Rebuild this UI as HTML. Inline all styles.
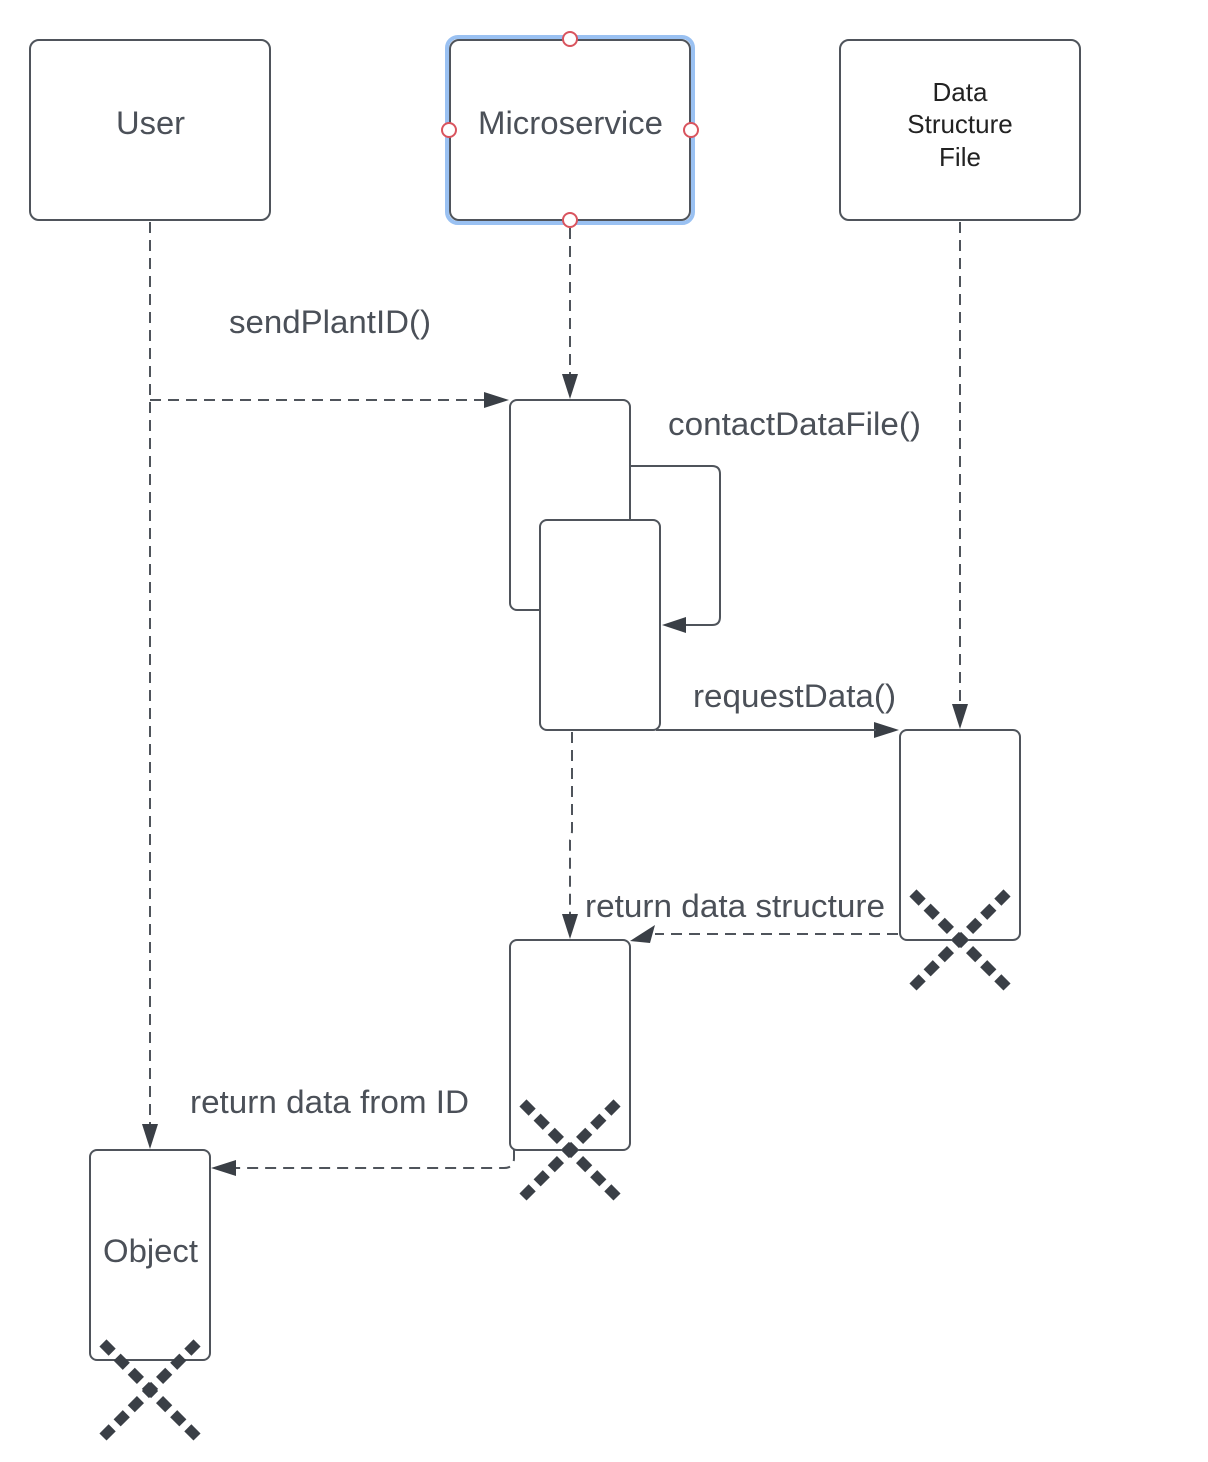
<!DOCTYPE html>
<html><head><meta charset="utf-8"><style>html,body{margin:0;padding:0;background:#fff}svg{display:block}</style></head>
<body>
<svg width="1208" height="1462" viewBox="0 0 1208 1462" xmlns="http://www.w3.org/2000/svg" font-family="Liberation Sans, Arial, sans-serif">
<g fill="#fff" stroke="#4f545b" stroke-width="2">
<rect x="30" y="40" width="240" height="180" rx="9"/>
<rect x="447" y="37" width="246" height="186" rx="11" stroke="#9ac1f2" stroke-width="4" fill="none"/>
<rect x="450" y="40" width="240" height="180" rx="9"/>
<rect x="840" y="40" width="240" height="180" rx="9"/>
</g>
<g fill="#fff" stroke="#d9545e" stroke-width="2">
<circle cx="570" cy="39" r="7"/><circle cx="570" cy="220" r="7"/><circle cx="449" cy="130" r="7"/><circle cx="691" cy="130" r="7"/>
</g>
<g stroke="#4f545b" stroke-width="2" fill="none" stroke-dasharray="11 7">
<line x1="150" y1="222" x2="150" y2="1126"/>
<line x1="570" y1="228" x2="570" y2="376"/>
<line x1="960" y1="222" x2="960" y2="706"/>
<line x1="150" y1="400" x2="486" y2="400"/>
<path d="M572,732 V830 Q572,836 570,840 V916"/>
<path d="M898,934 H655"/>
<path d="M514,1150 V1158 Q514,1168 504,1168 H236"/>
</g>
<g fill="#3a3f46">
<path d="M562,374 L578,374 L570,399 z"/>
<path d="M952,704 L968,704 L960,729 z"/>
<path d="M142,1124 L158,1124 L150,1149 z"/>
<path d="M562,914 L578,914 L570,939 z"/>
<path d="M484,392 L484,408 L509,400 z"/>
<path d="M874,722 L874,738 L899,730 z"/>
<path d="M686,617 L686,633 L662,625 z"/>
<path d="M236,1160 L236,1176 L211,1168 z"/>
<path d="M655,925 L650,943 L630,941 z"/>
</g>
<g fill="#fff" stroke="#4f545b" stroke-width="2">
<rect x="510" y="400" width="120" height="210" rx="7"/>
<path d="M630,466 H712 Q720,466 720,474 V617 Q720,625 712,625 H686" fill="none"/>
<rect x="540" y="520" width="120" height="210" rx="7"/>
<line x1="656" y1="730" x2="876" y2="730"/>
<rect x="900" y="730" width="120" height="210" rx="7"/>
<rect x="510" y="940" width="120" height="210" rx="7"/>
<rect x="90" y="1150" width="120" height="210" rx="7"/>
</g>
<g stroke="#3a3f46" stroke-width="10" stroke-dasharray="13 7" stroke-dashoffset="-4.2" fill="none">
<path d="M910,890 L1010,990 M1010,890 L910,990"/>
<path d="M520,1100 L620,1200 M620,1100 L520,1200"/>
<path d="M100,1340 L200,1440 M200,1340 L100,1440"/>
</g>
<g fill="#4b5058" font-size="32">
<text x="116" y="134" textLength="69" lengthAdjust="spacingAndGlyphs">User</text>
<text x="478" y="134" textLength="185" lengthAdjust="spacingAndGlyphs">Microservice</text>
<text x="229" y="333" textLength="202" lengthAdjust="spacingAndGlyphs">sendPlantID()</text>
<text x="668" y="435" textLength="253" lengthAdjust="spacingAndGlyphs">contactDataFile()</text>
<text x="693" y="707" textLength="203" lengthAdjust="spacingAndGlyphs">requestData()</text>
<text x="585" y="917" textLength="300" lengthAdjust="spacingAndGlyphs">return data structure</text>
<text x="190" y="1113" textLength="279" lengthAdjust="spacingAndGlyphs">return data from ID</text>
<text x="103" y="1262" textLength="95" lengthAdjust="spacingAndGlyphs">Object</text>
</g>
<g fill="#222" font-size="26" text-anchor="middle">
<text x="960" y="101">Data</text>
<text x="960" y="133">Structure</text>
<text x="960" y="166">File</text>
</g>
</svg>
</body></html>
